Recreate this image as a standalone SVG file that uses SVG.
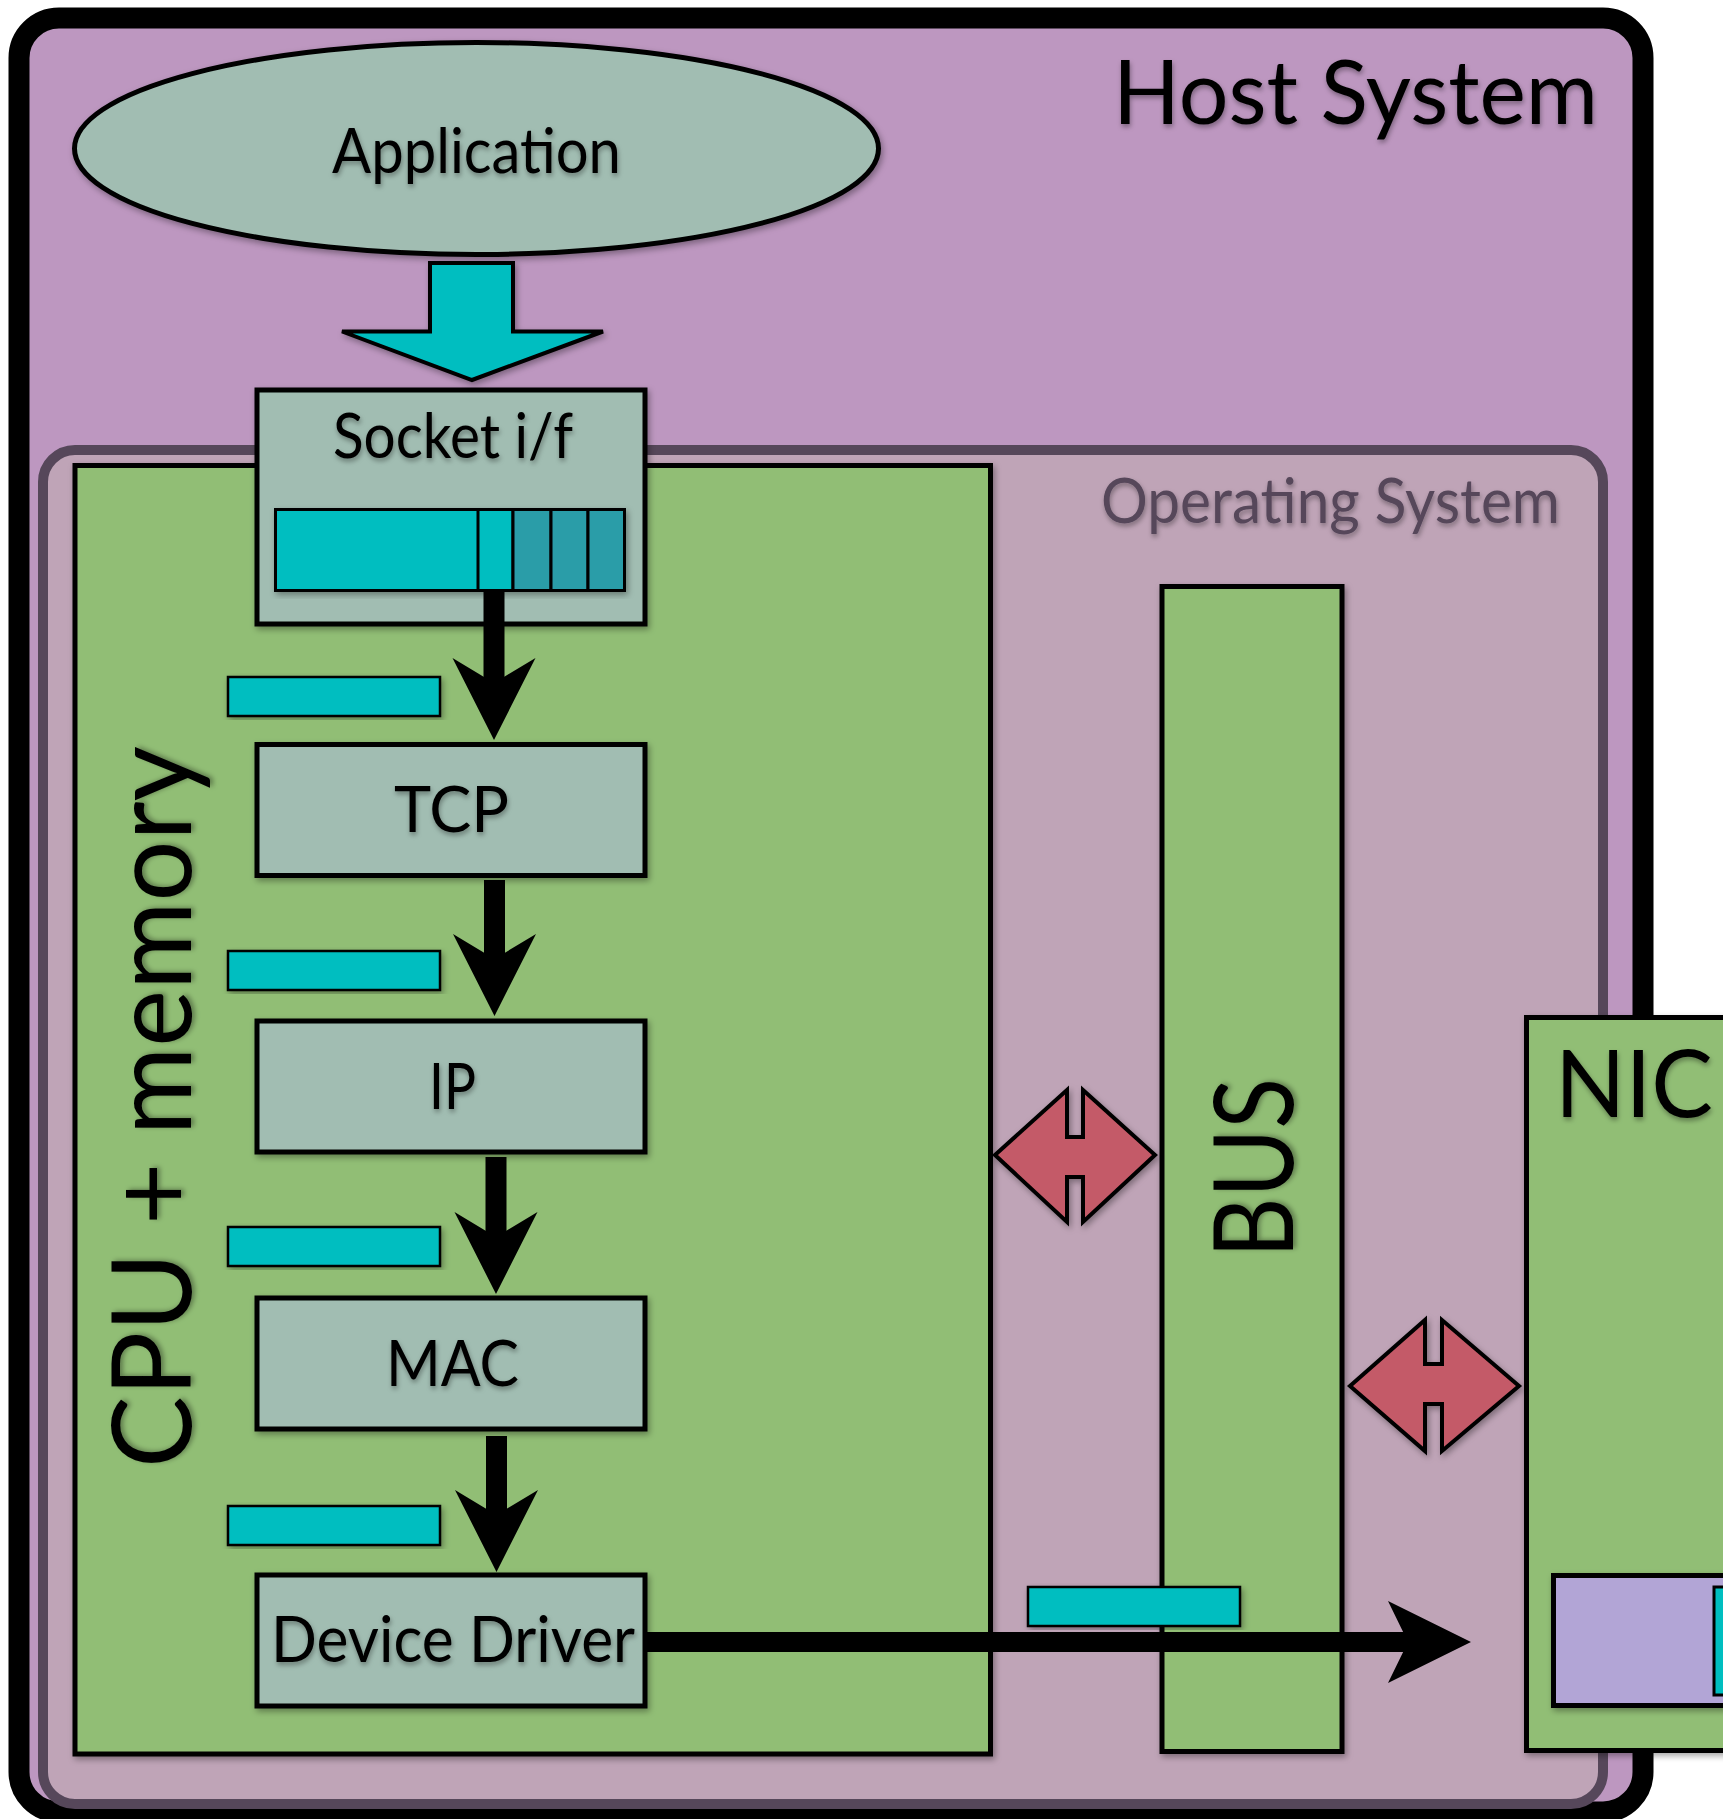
<svg xmlns="http://www.w3.org/2000/svg" width="1723" height="1819" viewBox="0 0 1723 1819">
  <defs>
    <style>
      .lbl { font-family: Lato, "Noto Sans", "Liberation Sans", sans-serif; fill: #000; filter: url(#tsh); }
      .box { fill: #A1BDB2; stroke: #000; stroke-width: 5; filter: url(#sh); }
      .green { fill: #91BE75; stroke: #000; stroke-width: 5; filter: url(#sh); }
      .data { fill: #00BEC0; stroke: #000; stroke-width: 2.5; filter: url(#sh); }
      .dark { fill: #2B9DA8; stroke: #000; stroke-width: 3; }
      .flow { fill: #000; }
      .duplex { fill: #C45A68; stroke: #000; stroke-width: 4; stroke-linejoin: miter; filter: url(#sh); }
    </style>
    <filter id="sh" x="-10%" y="-10%" width="120%" height="120%">
      <feDropShadow dx="2" dy="3" stdDeviation="3" flood-color="#000" flood-opacity="0.35"/>
    </filter>
    <filter id="tsh" x="-10%" y="-20%" width="120%" height="140%">
      <feDropShadow dx="1" dy="3" stdDeviation="2.5" flood-color="#000" flood-opacity="0.35"/>
    </filter>
    <!-- barbed arrow head pointing down, origin at the back centre -->
    <path id="headDown" d="M-41.5,0 L0,82 L41.5,0 L0,25 Z"/>
  </defs>

  <rect width="1723" height="1819" fill="#fff"/>

  <!-- host system frame -->
  <g id="host">
    <rect x="19" y="18" width="1624" height="1794" rx="40" fill="#BD97C0" stroke="#000" stroke-width="21"/>
    <text class="lbl" x="1113" y="124" font-size="89" textLength="485" lengthAdjust="spacingAndGlyphs">Host System</text>
  </g>

  <g id="application">
    <ellipse cx="476.5" cy="148.5" rx="402" ry="106" fill="#A1BDB2" stroke="#000" stroke-width="5" filter="url(#sh)"/>
    <text class="lbl" x="332" y="173" font-size="62" textLength="289" lengthAdjust="spacingAndGlyphs">Application</text>
  </g>

  <g id="os">
    <rect x="43" y="450" width="1560" height="1354" rx="32" fill="#BFA4B7" stroke="#56475A" stroke-width="10"/>
    <text x="1101" y="523" font-size="61" fill="#56475A" font-family="Lato, 'Noto Sans', 'Liberation Sans', sans-serif" filter="url(#tsh)" textLength="459" lengthAdjust="spacingAndGlyphs">Operating System</text>
  </g>

  <g id="cpu">
    <rect class="green" x="75" y="465.5" width="915.5" height="1288.5"/>
    <text class="lbl" transform="translate(191,1468) rotate(-90)" font-size="110" textLength="722" lengthAdjust="spacingAndGlyphs">CPU + memory</text>
  </g>

  <g id="bus">
    <rect class="green" x="1162" y="586.5" width="180" height="1165"/>
    <text class="lbl" transform="translate(1293,1258) rotate(-90)" font-size="110" textLength="180" lengthAdjust="spacingAndGlyphs">BUS</text>
  </g>

  <g id="nic">
    <rect class="green" x="1526.5" y="1017.5" width="240" height="733"/>
    <text class="lbl" x="1555" y="1117" font-size="93" textLength="158" lengthAdjust="spacingAndGlyphs">NIC</text>
    <rect x="1553.5" y="1575.5" width="220" height="130" fill="#B2A5D6" stroke="#000" stroke-width="5" filter="url(#sh)"/>
    <rect x="1714" y="1587" width="60" height="108" fill="#00BEC0" stroke="#000" stroke-width="3"/>
  </g>

  <g id="socket">
    <rect class="box" x="257" y="390" width="388" height="234"/>
    <text class="lbl" x="333" y="458" font-size="62" textLength="240" lengthAdjust="spacingAndGlyphs">Socket i/f</text>
    <g filter="url(#sh)">
      <rect x="275.5" y="509.5" width="349" height="81" fill="#00BEC0" stroke="#000" stroke-width="3"/>
      <rect x="478" y="509.5" width="35" height="81" fill="#00BEC0" stroke="#000" stroke-width="3"/>
      <rect class="dark" x="513" y="509.5" width="38" height="81"/>
      <rect class="dark" x="551" y="509.5" width="37" height="81"/>
      <rect class="dark" x="588" y="509.5" width="36.5" height="81"/>
    </g>
  </g>

  <g id="tcp">
    <rect class="box" x="257" y="744.5" width="388" height="131"/>
    <text class="lbl" x="394" y="832" font-size="63" textLength="115" lengthAdjust="spacingAndGlyphs">TCP</text>
  </g>
  <g id="ip">
    <rect class="box" x="257" y="1021" width="388" height="131"/>
    <text class="lbl" x="429" y="1109" font-size="63" textLength="47" lengthAdjust="spacingAndGlyphs">IP</text>
  </g>
  <g id="mac">
    <rect class="box" x="257" y="1298" width="388" height="131"/>
    <text class="lbl" x="386" y="1386" font-size="63" textLength="133" lengthAdjust="spacingAndGlyphs">MAC</text>
  </g>
  <g id="driver">
    <rect class="box" x="257" y="1575" width="388" height="131"/>
    <text class="lbl" x="271" y="1662" font-size="63" textLength="364" lengthAdjust="spacingAndGlyphs">Device Driver</text>
  </g>

  <!-- packets waiting between layers -->
  <g id="packets">
    <rect class="data" x="228" y="677" width="212" height="39"/>
    <rect class="data" x="228" y="951" width="212" height="39"/>
    <rect class="data" x="228" y="1227" width="212" height="39"/>
    <rect class="data" x="228" y="1506" width="212" height="39"/>
    <rect class="data" x="1028" y="1587" width="212" height="39"/>
  </g>

  <g id="connectors">
    <!-- application to socket -->
    <path d="M430,263 L513,263 L513,331.5 L603,331.5 L472,380 L342,331.5 L430,331.5 Z" fill="#00BEC0" stroke="#000" stroke-width="4" stroke-linejoin="miter" filter="url(#sh)"/>

    <!-- down the protocol stack -->
    <g class="flow">
      <rect x="483.5" y="592" width="21" height="92"/>
      <use href="#headDown" x="494" y="658"/>
      <rect x="484" y="880" width="21" height="80"/>
      <use href="#headDown" x="494.5" y="934"/>
      <rect x="485.5" y="1157" width="21" height="80"/>
      <use href="#headDown" x="496" y="1212"/>
      <rect x="486" y="1436" width="21" height="80"/>
      <use href="#headDown" x="496.5" y="1490"/>
    </g>

    <!-- driver to NIC -->
    <g class="flow">
      <rect x="645" y="1632" width="765" height="20"/>
      <path d="M1388,1601 L1471,1642 L1388,1683 L1408,1642 Z"/>
    </g>

    <!-- CPU/BUS and BUS/NIC transfers -->
    <path class="duplex" d="M995,1155 L1067,1090 L1067,1137 L1083,1137 L1083,1090 L1155,1155 L1083,1222 L1083,1177 L1067,1177 L1067,1222 Z"/>
    <path class="duplex" d="M1350,1386 L1425,1320 L1425,1364 L1442,1364 L1442,1320 L1519,1386 L1442,1451 L1442,1404 L1425,1404 L1425,1451 Z"/>
  </g>
</svg>
